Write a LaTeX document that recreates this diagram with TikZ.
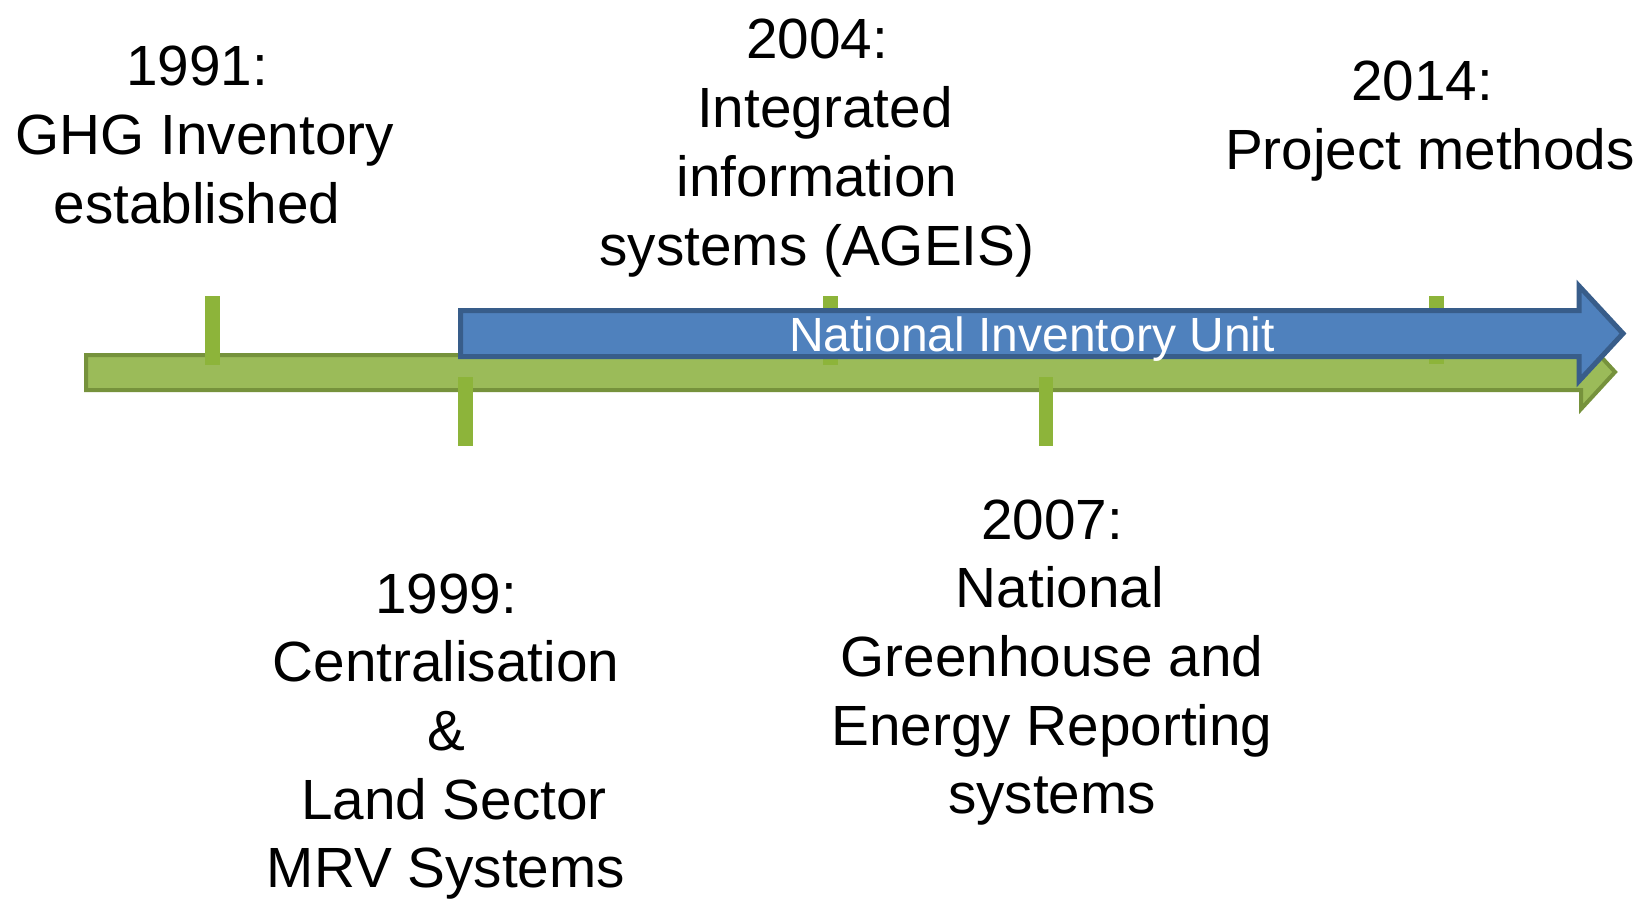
\documentclass[tikz,border=0pt]{standalone}
\usepackage{fontspec}
\setmainfont{Liberation Sans}
\definecolor{barfill}{HTML}{9BBB59}
\definecolor{barline}{HTML}{76923C}
\definecolor{tickgreen}{HTML}{8DB43A}
\definecolor{bluefill}{HTML}{4F81BD}
\definecolor{blueline}{HTML}{385D8A}
\begin{document}
\begin{tikzpicture}[x=0.5pt,y=-0.5pt,
  greenbar/.style={fill=barfill,draw=barline,line width=2pt,line join=miter},
  bluebar/.style={fill=bluefill,draw=blueline,line width=2.5pt,line join=miter},
  tickmark/.style={fill=tickgreen},
  milestone/.style={anchor=north,inner sep=0pt,align=center,text=black,
    font=\fontsize{28.35}{34.35}\selectfont},
  barlabel/.style={anchor=base,inner sep=0pt,text=white,
    font=\fontsize{24}{28}\selectfont}]
\useasboundingbox[fill=white] (0,0) rectangle (1641,899);
% green timeline arrow
\draw[greenbar] (86,355) -- (1581,355) -- (1581,335) -- (1615,372) -- (1581,409) -- (1581,390) -- (86,390) -- cycle;
% ticks
\fill[tickmark] (205,296) rectangle (220,365);
\fill[tickmark] (458,377) rectangle (473,446);
\fill[tickmark] (823,296) rectangle (838,365);
\fill[tickmark] (1039,377) rectangle (1053,446);
\fill[tickmark] (1429,296) rectangle (1444,364);
% blue arrow
\draw[bluebar] (460.5,310.5) -- (1579,310.5) -- (1579,286) -- (1623,333.5) -- (1579,381) -- (1579,356.5) -- (460.5,356.5) -- cycle;
\node[barlabel] (niu) at (1032,351) {National Inventory Unit};
% milestones
\node[milestone] (m1991) at (197,46) {1991:\\\ GHG Inventory\\established};
\node[milestone] (m2004) at (817,19) {2004:\\\ Integrated\\information\\systems (AGEIS)};
\node[milestone] (m2014) at (1430,61) {2014:\hphantom{\ }\\Project methods};
\node[milestone] (m1999) at (446,573) {1999:\\Centralisation\\\&\\\ Land Sector\\MRV Systems};
\node[milestone] (m2007) at (1052,499) {2007:\\\ National\\Greenhouse and\\Energy Reporting\\systems};
\end{tikzpicture}
\end{document}
